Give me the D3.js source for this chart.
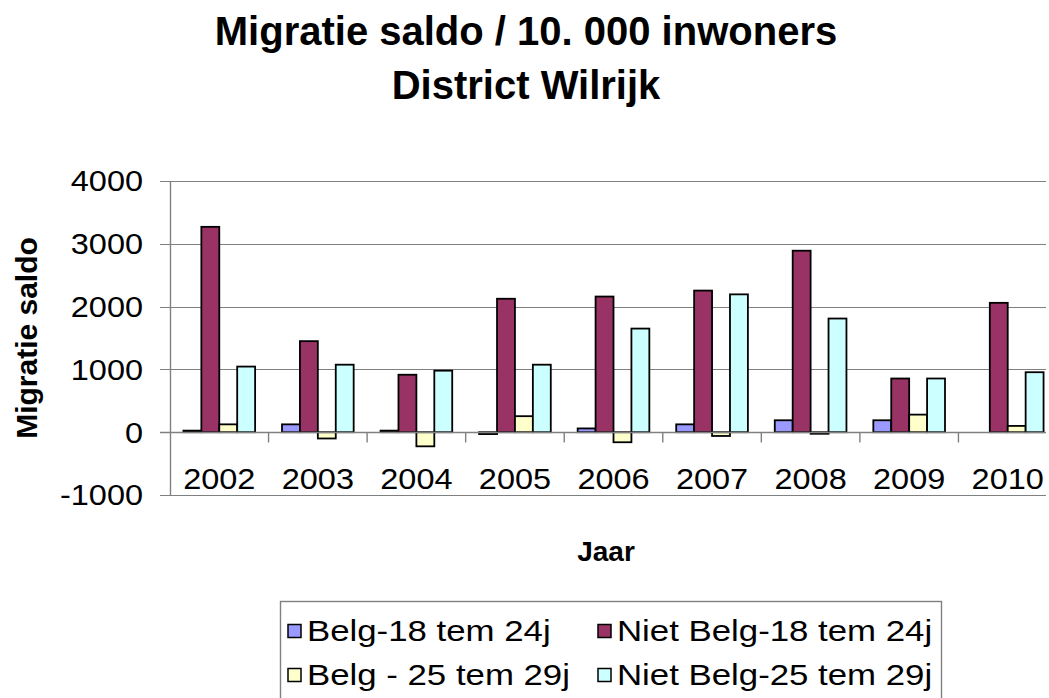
<!DOCTYPE html>
<html>
<head>
<meta charset="utf-8">
<script src="https://cdn.jsdelivr.net/npm/d3@7"></script>
<style>
  html, body { margin: 0; padding: 0; background: #ffffff; }
  svg { display: block; font-family: "Liberation Sans", Arial, sans-serif; }
</style>
</head>
<body>
<svg id="chart" width="1049" height="698"></svg>
<script>
// Jaren (categorieën)
const years = ["2002", "2003", "2004", "2005", "2006", "2007", "2008", "2009", "2010"];

// Reeksnamen
const seriesNames = ["Belg-18 tem 24j", "Niet Belg-18 tem 24j", "Belg - 25 tem 29j", "Niet Belg-25 tem 29j"];

// Migratiesaldo per reeks, per jaar
const belg18_24     = [25, 125, 25, -30, 60, 125, 190, 190, 0];
const nietBelg18_24 = [3270, 1450, 915, 2125, 2160, 2255, 2890, 855, 2060];
const belg25_29     = [125, -100, -225, 255, -160, -60, -25, 280, 100];
const nietBelg25_29 = [1045, 1075, 980, 1075, 1650, 2195, 1810, 855, 955];

// Waarden op de y-as
const yTicks = [-1000, 0, 1000, 2000, 3000, 4000];

const seriesValues = [belg18_24, nietBelg18_24, belg25_29, nietBelg25_29];
const seriesColors = ["#9999FF", "#993366", "#FFFFCC", "#CCFFFF"];

const svg = d3.select("#chart");
svg.append("rect").attr("width", 1049).attr("height", 698).attr("fill", "#ffffff");

// Plotgebied
const plot = { left: 170, right: 1057, top: 181, bottom: 495 };

const y = d3.scaleLinear().domain([-1000, 4000]).range([plot.bottom, plot.top]);
const x = d3.scaleBand().domain(years).range([plot.left, plot.right]).paddingInner(0).paddingOuter(0);
const x1 = d3.scaleBand().domain(d3.range(seriesNames.length))
  .range([0, x.bandwidth()]).paddingInner(0).paddingOuter(0.75);

const gridColor = "#808080";
const wide = 1.12;   // iets bredere letters voor de aslabels

// Horizontale rasterlijnen
svg.append("g").selectAll("line").data(yTicks).join("line")
  .attr("x1", plot.left - 10).attr("x2", 1046)
  .attr("y1", d => Math.round(y(d)) + 0.5).attr("y2", d => Math.round(y(d)) + 0.5)
  .attr("stroke", gridColor).attr("stroke-width", 1.2);

// Y-as
svg.append("line")
  .attr("x1", plot.left + 0.5).attr("x2", plot.left + 0.5)
  .attr("y1", plot.top).attr("y2", plot.bottom)
  .attr("stroke", gridColor).attr("stroke-width", 1.4);

// Y-as labels
svg.append("g").selectAll("text").data(yTicks).join("text")
  .attr("transform", d => `translate(143,${y(d)}) scale(${wide},1)`)
  .attr("dy", "0.36em")
  .attr("text-anchor", "end")
  .attr("font-size", 29)
  .attr("fill", "#000")
  .text(d => d);

// Staven
const groups = svg.append("g").selectAll("g").data(years).join("g")
  .attr("transform", d => `translate(${x(d)},0)`);

groups.selectAll("rect")
  .data((yr, i) => seriesValues.map((vals, s) => ({ s, v: vals[i] })).filter(d => d.v !== 0))
  .join("rect")
  .attr("x", d => x1(d.s))
  .attr("width", x1.bandwidth())
  .attr("y", d => y(Math.max(0, d.v)))
  .attr("height", d => Math.abs(y(d.v) - y(0)))
  .attr("fill", d => seriesColors[d.s])
  .attr("stroke", "#000")
  .attr("stroke-width", 1.8);

// X-as (nullijn) met streepjes tussen de jaren
const zeroY = Math.round(y(0)) + 0.5;
svg.append("line")
  .attr("x1", plot.left - 10).attr("x2", 1046)
  .attr("y1", zeroY).attr("y2", zeroY)
  .attr("stroke", gridColor).attr("stroke-width", 1.4);

svg.append("g").selectAll("line").data(years.slice(1)).join("line")
  .attr("x1", d => x(d)).attr("x2", d => x(d))
  .attr("y1", zeroY).attr("y2", zeroY + 10)
  .attr("stroke", gridColor).attr("stroke-width", 1.4);

// Jaarlabels
svg.append("g").selectAll("text").data(years).join("text")
  .attr("transform", d => `translate(${x(d) + x.bandwidth() / 2},489) scale(${wide},1)`)
  .attr("text-anchor", "middle")
  .attr("font-size", 29)
  .attr("fill", "#000")
  .text(d => d);

// Titel
const title = svg.append("text")
  .attr("text-anchor", "middle")
  .attr("font-weight", "bold")
  .attr("font-size", 40)
  .attr("fill", "#000");
title.append("tspan").attr("x", 526).attr("y", 45).text("Migratie saldo / 10. 000 inwoners");
title.append("tspan").attr("x", 526).attr("y", 99).text("District Wilrijk");

// As-titels
svg.append("text")
  .attr("transform", "translate(37,338) rotate(-90)")
  .attr("text-anchor", "middle")
  .attr("font-weight", "bold")
  .attr("font-size", 30)
  .attr("fill", "#000")
  .text("Migratie saldo");

svg.append("text")
  .attr("x", 606).attr("y", 561)
  .attr("text-anchor", "middle")
  .attr("font-weight", "bold")
  .attr("font-size", 28)
  .attr("fill", "#000")
  .text("Jaar");

// Legenda
const legend = svg.append("g");
legend.append("rect")
  .attr("x", 280.5).attr("y", 601.5)
  .attr("width", 661).attr("height", 110)
  .attr("fill", "#fff")
  .attr("stroke", gridColor).attr("stroke-width", 1.4);

const legendCols = [288, 598];
const legendRows = [631, 675];
const items = legend.selectAll("g").data(seriesNames).join("g")
  .attr("transform", (d, i) => `translate(${legendCols[i % 2]},${legendRows[Math.floor(i / 2)]})`);

items.append("rect")
  .attr("x", 0).attr("y", -6.5)
  .attr("width", 13).attr("height", 13)
  .attr("fill", (d, i) => seriesColors[i])
  .attr("stroke", "#000").attr("stroke-width", 1.5);

items.append("text")
  .attr("transform", "translate(19,0) scale(1.2,1)")
  .attr("dy", "0.36em")
  .attr("font-size", 29)
  .attr("fill", "#000")
  .text(d => d);
</script>
</body>
</html>
